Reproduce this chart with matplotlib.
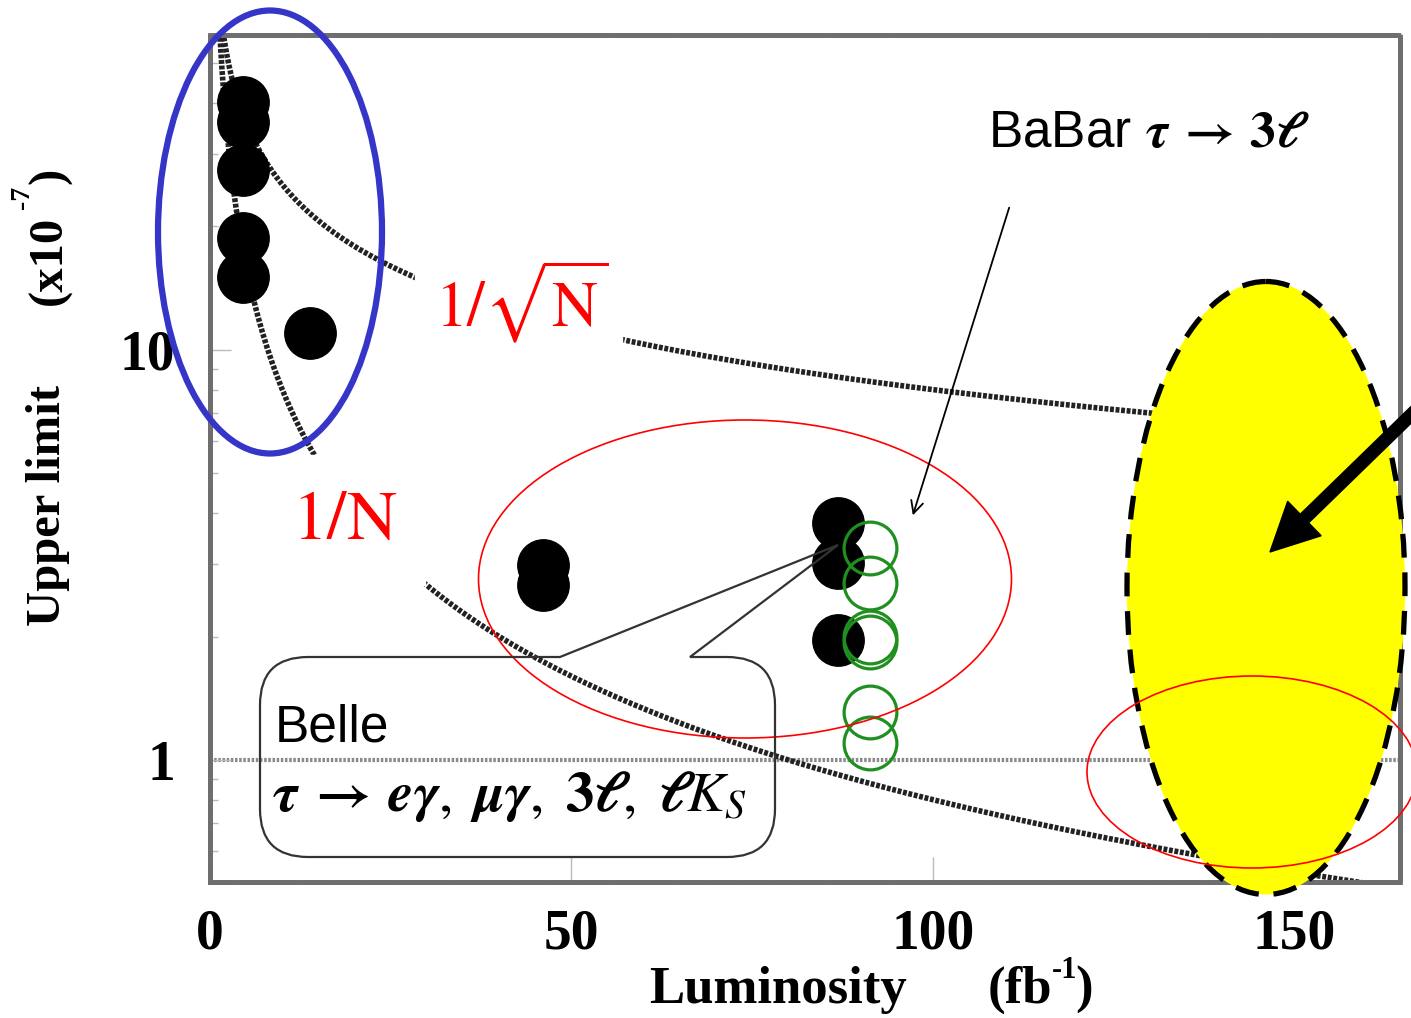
import numpy as np
import matplotlib.pyplot as plt
from matplotlib.patches import Ellipse, PathPatch, Rectangle, FancyArrow
from matplotlib.path import Path

# Belle upper limits (x10^-7) vs integrated luminosity (fb^-1)
belle_lumi = [4.6, 4.6, 4.6, 4.6, 4.6, 13.8, 46.1, 46.1, 86.9, 86.9, 86.9]
belle_ul = [40.3, 36.0, 27.5, 18.7, 15.1, 11.0, 2.99, 2.67, 3.79, 3.02, 1.96]

# BaBar tau -> 3l upper limits
babar_lumi = [91.3, 91.3, 91.3, 91.3, 91.3, 91.3]
babar_ul = [3.29, 2.70, 2.00, 1.94, 1.31, 1.10]

# scaling reference curves: UL = norm/N and norm/sqrt(N)
curve_norm = 80.0
curve_lumi = np.linspace(1.0, 165.0, 500)

x_ticks = [0, 50, 100, 150]
y_ticks = [1, 10]

W, H = 1411, 1018
serif = "Liberation Serif"
sans = "Liberation Sans"

fig = plt.figure(figsize=(W / 100, H / 100), dpi=100)
ax = fig.add_axes([210 / W, 1 - 882 / H, 1190 / W, 847 / H])

ax.set_yscale("log")
ax.set_xlim(0, 164.6)
ax.set_ylim(0.504, 58.6)

rope = (0, (0.7, 0.3))
ax.plot(curve_lumi, curve_norm / np.sqrt(curve_lumi), color="#222222", lw=4, ls=rope, zorder=2)
ax.plot(curve_lumi, curve_norm / curve_lumi, color="#222222", lw=4, ls=rope, zorder=2)
ax.axhline(1, color="#8a8a8a", lw=3, ls=(0, (0.6, 0.4)), zorder=1)

ax.plot(belle_lumi, belle_ul, "o", color="black", ms=37, zorder=4)
ax.plot(babar_lumi, babar_ul, "o", mfc="none", mec="#1f8f1f", mew=2.3, ms=38, zorder=5)

for s in ax.spines.values():
    s.set_color("#6e6e6e")
    s.set_linewidth(3.5)
    s.set_linestyle((0, (0.5, 0.35)))

ax.set_xticks(x_ticks)
ax.set_xticklabels([str(t) for t in x_ticks])
ax.set_yticks(y_ticks)
ax.set_yticklabels([str(t) for t in y_ticks])
ax.tick_params(axis="x", which="major", direction="in", length=18, width=1,
               color="#bbbbbb", pad=19, labelsize=40)
ax.tick_params(axis="y", which="major", direction="in", length=15, width=1,
               color="#bbbbbb", pad=25, labelsize=40)
ax.tick_params(axis="y", which="minor", direction="in", length=6, width=1,
               color="#bbbbbb", labelleft=False)
ax.tick_params(top=False, right=False)
for lab in ax.get_xticklabels() + ax.get_yticklabels():
    lab.set_fontfamily(serif)
    lab.set_fontweight("bold")

# axis titles
fig.text(48 / W, 1 - 505 / H, "Upper limit", rotation=90, ha="center", va="center",
         fontsize=35, fontweight="bold", family=serif)
fig.text(50 / W, 1 - 260 / H, "(x10", rotation=90, ha="center", va="center",
         fontsize=35, fontweight="bold", family=serif)
fig.text(23 / W, 1 - 197 / H, "-7", rotation=90, ha="center", va="center",
         fontsize=20, fontweight="bold", family=serif)
fig.text(50 / W, 1 - 176 / H, ")", rotation=90, ha="center", va="center",
         fontsize=35, fontweight="bold", family=serif)

fig.text(778 / W, 1 - 990 / H, "Luminosity", ha="center", va="center",
         fontsize=38, fontweight="bold", family=serif)
fig.text(1020 / W, 1 - 990 / H, "(fb", ha="center", va="center",
         fontsize=38, fontweight="bold", family=serif)
fig.text(1065 / W, 1 - 970 / H, "-1", ha="center", va="center",
         fontsize=22, fontweight="bold", family=serif)
fig.text(1084 / W, 1 - 990 / H, ")", ha="center", va="center",
         fontsize=38, fontweight="bold", family=serif)

# overlay in pixel coordinates for the annotations
ov = fig.add_axes([0, 0, 1, 1], zorder=5)
ov.set_xlim(0, W)
ov.set_ylim(H, 0)
ov.axis("off")
ov.patch.set_alpha(0)

# white masks behind the curve labels
ov.add_patch(Rectangle((415, 245), 207, 117, color="white", zorder=1))
ov.add_patch(Rectangle((262, 455), 163, 130, color="white", zorder=1))
ov.text(522, 302, r"$1/\sqrt{\mathrm{N}}$", color="red", fontsize=46, ha="center",
        va="center", math_fontfamily="stix", zorder=2)
ov.text(345, 520, r"$1/\mathrm{N}$", color="red", fontsize=50, ha="center",
        va="center", math_fontfamily="stix", zorder=2)

# ellipses
ov.add_patch(Ellipse((270, 232), 224, 443, fill=False, ec="#3535c8", lw=4.5, zorder=3))
ov.add_patch(Ellipse((745, 579), 533, 318, fill=False, ec="red", lw=1.2, zorder=3))
ov.add_patch(Ellipse((1266, 588), 278, 613, fc="yellow", ec="black", lw=3.8,
                     ls=(0, (4.5, 2.8)), zorder=3))
ov.add_patch(Ellipse((1252, 772), 330, 192, fill=False, ec="red", lw=1.2, zorder=4))

# arrows
ov.add_patch(FancyArrow(1450, 377, 1270 - 1450, 552 - 377, width=12, head_width=48,
                        head_length=48, length_includes_head=True, color="black", zorder=5))
ov.annotate("", xy=(912, 518), xytext=(1010, 205),
            arrowprops=dict(arrowstyle="->", lw=1.3, color="black", mutation_scale=22),
            zorder=5)

# Belle callout
r = 48
verts = [(260 + r, 657), (560, 657), (838, 545), (690, 657), (775 - r, 657),
         (775, 657), (775, 657 + r), (775, 857 - r), (775, 857), (775 - r, 857),
         (260 + r, 857), (260, 857), (260, 857 - r), (260, 657 + r), (260, 657),
         (260 + r, 657), (260 + r, 657)]
codes = [Path.MOVETO, Path.LINETO, Path.LINETO, Path.LINETO, Path.LINETO,
         Path.CURVE3, Path.CURVE3, Path.LINETO, Path.CURVE3, Path.CURVE3,
         Path.LINETO, Path.CURVE3, Path.CURVE3, Path.LINETO, Path.CURVE3, Path.CURVE3,
         Path.CLOSEPOLY]
ov.add_patch(PathPatch(Path(verts, codes), fill=False, ec="#333333", lw=1.6, zorder=4))

ov.text(275, 728, "Belle", fontsize=37, family=sans, ha="left", va="center", zorder=6)
ov.text(272, 797,
        r"$\boldsymbol{\tau\;\rightarrow\;e\gamma,\ \mu\gamma,\ 3\ell,\ \ell K_S}$",
        fontsize=41, ha="left", va="center", math_fontfamily="stix", zorder=6)
ov.text(988, 133, r"BaBar $\boldsymbol{\tau\;\rightarrow\;3\ell}$", fontsize=37,
        family=sans, ha="left", va="center", math_fontfamily="stix", zorder=6)

fig.savefig("out.png", dpi=100)
